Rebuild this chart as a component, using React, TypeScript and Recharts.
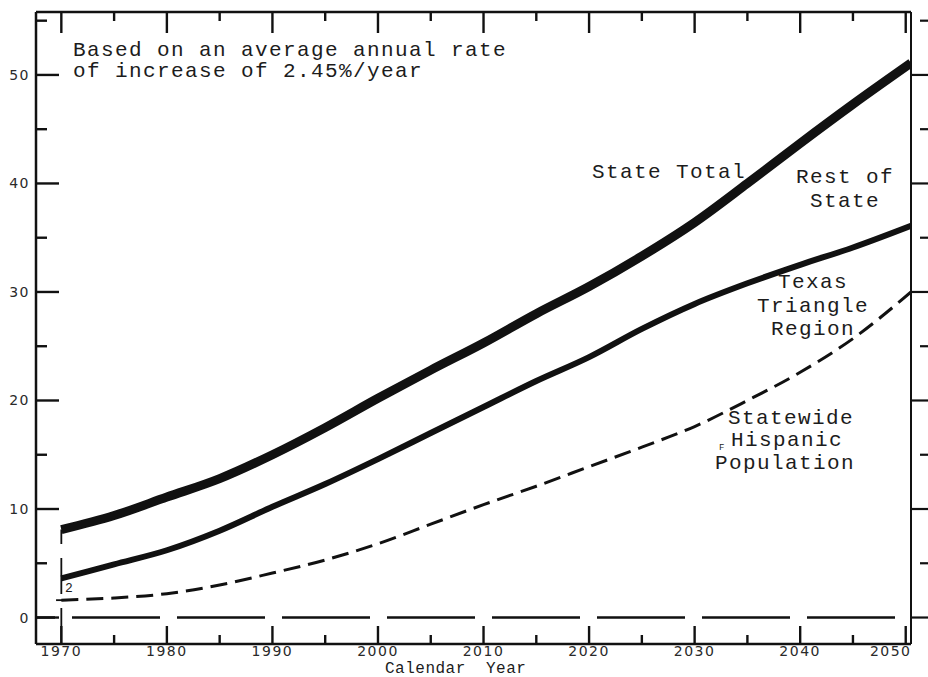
import React from "react";
import { LineChart, Line, XAxis, YAxis, ReferenceLine } from "recharts";

// population in millions
const years = [1970, 1975, 1980, 1985, 1990, 1995, 2000, 2005, 2010, 2015, 2020, 2025, 2030, 2035, 2040, 2045, 2050.5];
const stateTotal = [8.1, 9.4, 11.1, 12.8, 15.0, 17.5, 20.2, 22.8, 25.3, 28.0, 30.5, 33.3, 36.4, 40.0, 43.7, 47.3, 51.1];
const texasTriangle = [3.6, 4.9, 6.2, 8.0, 10.2, 12.3, 14.6, 17.0, 19.4, 21.8, 24.0, 26.6, 28.9, 30.8, 32.5, 34.1, 36.1];
const hispanic = [1.6, 1.8, 2.2, 3.0, 4.1, 5.3, 6.8, 8.6, 10.4, 12.1, 13.9, 15.7, 17.6, 20.0, 22.6, 25.7, 30.0];

const xTicks = [1970, 1975, 1980, 1985, 1990, 1995, 2000, 2005, 2010, 2015, 2020, 2025, 2030, 2035, 2040, 2045, 2050];
const yTicks = [0, 5, 10, 15, 20, 25, 30, 35, 40, 45, 50, 55];
const xDomain = [1967.6, 2050.5];
const yDomain = [-2.44, 55.8];

const data = years.map((year, i) => ({
  year,
  total: stateTotal[i],
  triangle: texasTriangle[i],
  hispanic: hispanic[i],
}));

const ink = "#111";
const tickFont = {
  fontFamily: "DejaVu Sans",
  fontSize: 14,
  letterSpacing: 1.5,
  fill: "#2a2a2a",
};
const typewriter: React.CSSProperties = {
  position: "absolute",
  fontFamily: "Liberation Mono",
  fontSize: 21,
  letterSpacing: 1.4,
  color: "#1c1c1c",
  whiteSpace: "pre",
};

const BottomTick = (props: any) => {
  const { x, y, payload } = props;
  const v = payload.value;
  const major = v % 10 === 0;
  return (
    <g>
      <line x1={x} y1={y} x2={x} y2={y - (major ? 18 : 9)} stroke={ink} strokeWidth={2.4} />
      {major && (
        <text x={v === 2050 ? x - 15 : x} y={y + 12} textAnchor="middle" {...tickFont}>
          {v}
        </text>
      )}
    </g>
  );
};

const TopTick = (props: any) => {
  const { x, y, payload } = props;
  const major = payload.value % 10 === 0;
  return <line x1={x} y1={y} x2={x} y2={y + (major ? 21 : 9)} stroke={ink} strokeWidth={2.4} />;
};

const LeftTick = (props: any) => {
  const { x, y, payload } = props;
  const v = payload.value;
  const major = v % 10 === 0;
  return (
    <g>
      <line x1={x} y1={y} x2={x + (major ? 23 : 11)} y2={y} stroke={ink} strokeWidth={2.4} />
      {major && (
        <text x={x - 6} y={y + 5} textAnchor="end" {...tickFont}>
          {v}
        </text>
      )}
    </g>
  );
};

const RightTick = (props: any) => {
  const { x, y, payload } = props;
  const major = payload.value % 10 === 0;
  return <line x1={major ? x : x + 9} y1={y} x2={x + 17} y2={y} stroke={ink} strokeWidth={2.2} />;
};

export default function App() {
  return (
    <div style={{ position: "absolute", left: 0, top: 0, width: 928, height: 677, background: "#fff" }}>
      <LineChart width={928} height={677} data={data} margin={{ top: 0, right: 0, bottom: 0, left: 0 }}>
        <XAxis
          dataKey="year"
          type="number"
          domain={xDomain}
          ticks={xTicks}
          interval={0}
          allowDataOverflow
          height={33}
          tickSize={0}
          tickMargin={0}
          tickLine={false}
          axisLine={{ stroke: ink, strokeWidth: 2.5 }}
          tick={<BottomTick />}
        />
        <XAxis
          xAxisId="top"
          orientation="top"
          dataKey="year"
          type="number"
          domain={xDomain}
          ticks={xTicks}
          interval={0}
          allowDataOverflow
          height={12}
          tickSize={0}
          tickMargin={0}
          tickLine={false}
          axisLine={{ stroke: ink, strokeWidth: 2.5 }}
          tick={<TopTick />}
        />
        <YAxis
          type="number"
          domain={yDomain}
          ticks={yTicks}
          interval={0}
          allowDataOverflow
          width={36}
          tickSize={0}
          tickMargin={0}
          tickLine={false}
          axisLine={{ stroke: ink, strokeWidth: 2.5 }}
          tick={<LeftTick />}
        />
        <YAxis
          yAxisId="right"
          orientation="right"
          type="number"
          domain={yDomain}
          ticks={yTicks}
          interval={0}
          allowDataOverflow
          width={17}
          tickSize={0}
          tickMargin={0}
          tickLine={false}
          axisLine={{ stroke: ink, strokeWidth: 2 }}
          tick={<RightTick />}
        />
        <ReferenceLine
          y={0}
          stroke={ink}
          strokeWidth={2.5}
          strokeDasharray="88 17"
          strokeDashoffset={69}
        />
        <ReferenceLine
          segment={[
            { x: years[0], y: yDomain[0] },
            { x: years[0], y: stateTotal[0] },
          ]}
          stroke={ink}
          strokeWidth={1.8}
          strokeDasharray="36 14"
        />
        <ReferenceLine
          segment={[
            { x: 1969.5, y: hispanic[0] },
            { x: 1970.6, y: hispanic[0] },
          ]}
          stroke={ink}
          strokeWidth={1.8}
        />
        <Line
          dataKey="total"
          type="monotone"
          stroke={ink}
          strokeWidth={9}
          dot={false}
          activeDot={false}
          isAnimationActive={false}
        />
        <Line
          dataKey="triangle"
          type="monotone"
          stroke={ink}
          strokeWidth={6}
          dot={false}
          activeDot={false}
          isAnimationActive={false}
        />
        <Line
          dataKey="hispanic"
          type="monotone"
          stroke={ink}
          strokeWidth={3}
          strokeDasharray="17 8"
          dot={false}
          activeDot={false}
          isAnimationActive={false}
        />
      </LineChart>

      <div style={{ ...typewriter, left: 73, top: 40, lineHeight: "21px" }}>
        {"Based on an average annual rate\nof increase of 2.45%/year"}
      </div>
      <div style={{ ...typewriter, left: 592, top: 161, lineHeight: "24px" }}>State Total</div>
      <div style={{ ...typewriter, left: 785, width: 120, top: 166, lineHeight: "24px", textAlign: "center" }}>
        {"Rest of\nState"}
      </div>
      <div style={{ ...typewriter, left: 753, width: 120, top: 271, lineHeight: "23.5px", textAlign: "center" }}>
        {"Texas\nTriangle\nRegion"}
      </div>
      <div style={{ ...typewriter, left: 728, top: 408, lineHeight: "22px" }}>Statewide</div>
      <div style={{ ...typewriter, left: 731, top: 430, lineHeight: "22px" }}>Hispanic</div>
      <div style={{ ...typewriter, left: 715, top: 453, lineHeight: "22px" }}>Population</div>
      <div style={{ ...typewriter, fontSize: 9, letterSpacing: 0, left: 719, top: 444, lineHeight: "9px" }}>F</div>
      <div style={{ ...typewriter, fontSize: 13, left: 65, top: 581, lineHeight: "16px" }}>2</div>
      <div style={{ ...typewriter, fontSize: 16, letterSpacing: 0.5, left: 385, top: 661, lineHeight: "16px" }}>
        {"Calendar  Year"}
      </div>
    </div>
  );
}
